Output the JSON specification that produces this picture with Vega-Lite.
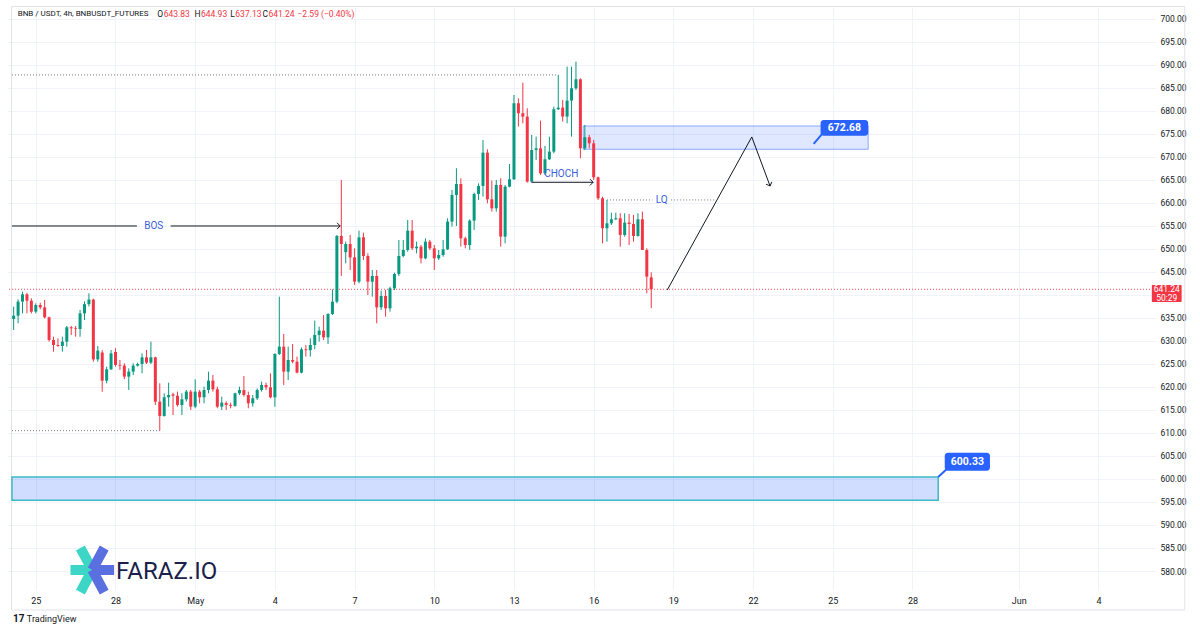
{
  "$schema": "https://vega.github.io/schema/vega-lite/v6.json",
  "width": 1149,
  "height": 583,
  "autosize": "none",
  "padding": {"left": 7, "top": 7, "right": 44, "bottom": 40},
  "background": "#ffffff",
  "config": {"view": {"stroke": null}, "font": "Roboto"},
  "resolve": {"axis": {"x": "independent", "y": "independent"}},
  "datasets": {
    "candles": [
      {"t":"2025-04-24T04:00Z","o":634.78,"h":637.46,"l":632.39,"c":635.5},
      {"t":"2025-04-24T08:00Z","o":635.5,"h":639.05,"l":633.84,"c":638.55},
      {"t":"2025-04-24T12:00Z","o":638.55,"h":640.72,"l":636.0,"c":640.14},
      {"t":"2025-04-24T16:00Z","o":640.14,"h":640.5,"l":636.0,"c":638.76},
      {"t":"2025-04-24T20:00Z","o":638.76,"h":639.27,"l":636.0,"c":636.37},
      {"t":"2025-04-25T00:00Z","o":636.37,"h":638.18,"l":636.0,"c":637.82},
      {"t":"2025-04-25T04:00Z","o":637.82,"h":638.33,"l":636.88,"c":637.31},
      {"t":"2025-04-25T08:00Z","o":637.31,"h":638.91,"l":634.92,"c":635.14},
      {"t":"2025-04-25T12:00Z","o":635.14,"h":635.29,"l":629.85,"c":630.21},
      {"t":"2025-04-25T16:00Z","o":630.21,"h":630.94,"l":627.68,"c":629.13},
      {"t":"2025-04-25T20:00Z","o":629.13,"h":630.57,"l":628.76,"c":628.91},
      {"t":"2025-04-26T00:00Z","o":628.91,"h":630.94,"l":627.68,"c":629.85},
      {"t":"2025-04-26T04:00Z","o":629.85,"h":633.26,"l":628.76,"c":632.97},
      {"t":"2025-04-26T08:00Z","o":632.97,"h":633.26,"l":631.3,"c":632.75},
      {"t":"2025-04-26T12:00Z","o":632.75,"h":633.26,"l":630.94,"c":632.6},
      {"t":"2025-04-26T16:00Z","o":632.6,"h":636.73,"l":630.94,"c":636.0},
      {"t":"2025-04-26T20:00Z","o":636.0,"h":638.6,"l":634.56,"c":638.0},
      {"t":"2025-04-27T00:00Z","o":638.0,"h":640.36,"l":637.5,"c":639.0},
      {"t":"2025-04-27T04:00Z","o":639.0,"h":639.2,"l":625.5,"c":626.0},
      {"t":"2025-04-27T08:00Z","o":626.0,"h":628.9,"l":625.5,"c":627.9},
      {"t":"2025-04-27T12:00Z","o":627.5,"h":628.0,"l":618.98,"c":621.37},
      {"t":"2025-04-27T16:00Z","o":621.37,"h":624.41,"l":620.8,"c":623.84},
      {"t":"2025-04-27T20:00Z","o":623.84,"h":628.04,"l":623.7,"c":627.31},
      {"t":"2025-04-28T00:00Z","o":627.6,"h":628.41,"l":624.42,"c":624.79},
      {"t":"2025-04-28T04:00Z","o":624.79,"h":625.87,"l":623.7,"c":624.64},
      {"t":"2025-04-28T08:00Z","o":624.64,"h":625.15,"l":621.67,"c":622.25},
      {"t":"2025-04-28T12:00Z","o":622.25,"h":624.06,"l":619.35,"c":623.34},
      {"t":"2025-04-28T16:00Z","o":623.34,"h":625.15,"l":622.61,"c":624.64},
      {"t":"2025-04-28T20:00Z","o":624.64,"h":625.29,"l":624.42,"c":625.0},
      {"t":"2025-04-29T00:00Z","o":625.0,"h":627.32,"l":622.97,"c":626.45},
      {"t":"2025-04-29T04:00Z","o":626.45,"h":628.05,"l":625.0,"c":625.29},
      {"t":"2025-04-29T08:00Z","o":625.29,"h":629.86,"l":625.0,"c":626.45},
      {"t":"2025-04-29T12:00Z","o":626.45,"h":626.6,"l":616.09,"c":616.81},
      {"t":"2025-04-29T16:00Z","o":616.81,"h":620.8,"l":610.51,"c":613.7},
      {"t":"2025-04-29T20:00Z","o":613.7,"h":618.63,"l":613.55,"c":617.76},
      {"t":"2025-04-30T00:00Z","o":617.76,"h":620.94,"l":615.73,"c":618.26},
      {"t":"2025-04-30T04:00Z","o":618.4,"h":618.77,"l":613.92,"c":618.1},
      {"t":"2025-04-30T08:00Z","o":618.1,"h":618.99,"l":615.73,"c":616.09},
      {"t":"2025-04-30T12:00Z","o":616.09,"h":618.63,"l":613.92,"c":617.32},
      {"t":"2025-04-30T16:00Z","o":617.32,"h":619.35,"l":616.81,"c":618.99},
      {"t":"2025-04-30T20:00Z","o":618.99,"h":619.35,"l":615.0,"c":615.73},
      {"t":"2025-05-01T00:00Z","o":615.73,"h":621.67,"l":615.37,"c":618.99},
      {"t":"2025-05-01T04:00Z","o":618.99,"h":619.35,"l":616.45,"c":617.76},
      {"t":"2025-05-01T08:00Z","o":617.76,"h":620.07,"l":616.45,"c":619.35},
      {"t":"2025-05-01T12:00Z","o":619.35,"h":623.34,"l":618.63,"c":621.38},
      {"t":"2025-05-01T16:00Z","o":621.38,"h":622.61,"l":618.99,"c":619.5},
      {"t":"2025-05-01T20:00Z","o":619.5,"h":620.07,"l":615.37,"c":615.73},
      {"t":"2025-05-02T00:00Z","o":615.73,"h":617.9,"l":615.0,"c":616.6},
      {"t":"2025-05-02T04:00Z","o":616.5,"h":616.9,"l":615.0,"c":616.1},
      {"t":"2025-05-02T08:00Z","o":616.1,"h":616.6,"l":615.37,"c":615.9},
      {"t":"2025-05-02T12:00Z","o":615.9,"h":618.77,"l":615.7,"c":618.62},
      {"t":"2025-05-02T16:00Z","o":618.62,"h":620.07,"l":618.26,"c":619.35},
      {"t":"2025-05-02T20:00Z","o":619.35,"h":622.39,"l":617.9,"c":618.26},
      {"t":"2025-05-03T00:00Z","o":618.26,"h":618.99,"l":615.37,"c":616.45},
      {"t":"2025-05-03T04:00Z","o":616.45,"h":618.26,"l":615.73,"c":617.54},
      {"t":"2025-05-03T08:00Z","o":617.54,"h":619.71,"l":617.18,"c":619.35},
      {"t":"2025-05-03T12:00Z","o":619.35,"h":621.16,"l":618.99,"c":620.44},
      {"t":"2025-05-03T16:00Z","o":620.44,"h":620.94,"l":619.35,"c":619.93},
      {"t":"2025-05-03T20:00Z","o":619.93,"h":622.97,"l":617.54,"c":617.76},
      {"t":"2025-05-04T00:00Z","o":617.76,"h":627.32,"l":615.73,"c":627.18},
      {"t":"2025-05-04T04:00Z","o":627.18,"h":639.64,"l":626.96,"c":628.77},
      {"t":"2025-05-04T08:00Z","o":628.77,"h":631.52,"l":620.44,"c":623.34},
      {"t":"2025-05-04T12:00Z","o":623.34,"h":628.77,"l":621.52,"c":625.87},
      {"t":"2025-05-04T16:00Z","o":625.87,"h":629.35,"l":625.15,"c":625.5},
      {"t":"2025-05-04T20:00Z","o":625.5,"h":626.6,"l":622.97,"c":623.12},
      {"t":"2025-05-05T00:00Z","o":623.12,"h":628.62,"l":622.97,"c":628.19},
      {"t":"2025-05-05T04:00Z","o":628.19,"h":629.13,"l":626.6,"c":628.0},
      {"t":"2025-05-05T08:00Z","o":628.0,"h":630.58,"l":626.6,"c":629.13},
      {"t":"2025-05-05T12:00Z","o":629.13,"h":634.42,"l":628.19,"c":631.31},
      {"t":"2025-05-05T16:00Z","o":631.31,"h":633.12,"l":629.86,"c":632.25},
      {"t":"2025-05-05T20:00Z","o":632.25,"h":635.65,"l":630.22,"c":630.8},
      {"t":"2025-05-06T00:00Z","o":630.8,"h":636.02,"l":629.35,"c":635.87},
      {"t":"2025-05-06T04:00Z","o":635.87,"h":641.23,"l":635.65,"c":638.55},
      {"t":"2025-05-06T08:00Z","o":638.55,"h":653.04,"l":638.2,"c":652.82},
      {"t":"2025-05-06T12:00Z","o":652.82,"h":665.0,"l":644.13,"c":651.08},
      {"t":"2025-05-06T16:00Z","o":649.3,"h":651.59,"l":646.88,"c":651.08},
      {"t":"2025-05-06T20:00Z","o":651.08,"h":653.04,"l":645.43,"c":648.18},
      {"t":"2025-05-07T00:00Z","o":648.18,"h":650.14,"l":642.17,"c":642.9},
      {"t":"2025-05-07T04:00Z","o":642.9,"h":653.98,"l":642.53,"c":652.53},
      {"t":"2025-05-07T08:00Z","o":652.53,"h":653.55,"l":647.6,"c":648.47},
      {"t":"2025-05-07T12:00Z","o":648.47,"h":649.05,"l":640.0,"c":642.9},
      {"t":"2025-05-07T16:00Z","o":642.9,"h":645.43,"l":639.63,"c":644.13},
      {"t":"2025-05-07T20:00Z","o":644.13,"h":645.43,"l":633.84,"c":637.31},
      {"t":"2025-05-08T00:00Z","o":637.31,"h":640.94,"l":636.73,"c":639.78},
      {"t":"2025-05-08T04:00Z","o":639.78,"h":641.08,"l":635.29,"c":637.1},
      {"t":"2025-05-08T08:00Z","o":637.1,"h":641.81,"l":636.38,"c":641.45},
      {"t":"2025-05-08T12:00Z","o":641.45,"h":644.85,"l":641.08,"c":644.56},
      {"t":"2025-05-08T16:00Z","o":644.56,"h":651.95,"l":644.13,"c":648.47},
      {"t":"2025-05-08T20:00Z","o":648.47,"h":651.95,"l":648.18,"c":649.78},
      {"t":"2025-05-09T00:00Z","o":649.78,"h":656.3,"l":649.42,"c":653.98},
      {"t":"2025-05-09T04:00Z","o":653.98,"h":656.3,"l":649.78,"c":650.14},
      {"t":"2025-05-09T08:00Z","o":650.14,"h":651.59,"l":649.05,"c":650.5},
      {"t":"2025-05-09T12:00Z","o":650.5,"h":650.87,"l":646.88,"c":647.97},
      {"t":"2025-05-09T16:00Z","o":647.97,"h":652.32,"l":647.75,"c":651.59},
      {"t":"2025-05-09T20:00Z","o":651.59,"h":651.95,"l":649.78,"c":650.14},
      {"t":"2025-05-10T00:00Z","o":650.14,"h":650.87,"l":645.43,"c":647.97},
      {"t":"2025-05-10T04:00Z","o":647.97,"h":649.78,"l":647.6,"c":648.69},
      {"t":"2025-05-10T08:00Z","o":648.69,"h":651.95,"l":648.33,"c":649.92},
      {"t":"2025-05-10T12:00Z","o":649.92,"h":656.67,"l":649.78,"c":655.95},
      {"t":"2025-05-10T16:00Z","o":655.95,"h":662.83,"l":654.86,"c":661.74},
      {"t":"2025-05-10T20:00Z","o":661.74,"h":667.54,"l":655.0,"c":664.13},
      {"t":"2025-05-11T00:00Z","o":664.13,"h":665.37,"l":650.51,"c":652.32},
      {"t":"2025-05-11T04:00Z","o":652.32,"h":652.68,"l":650.15,"c":650.87},
      {"t":"2025-05-11T08:00Z","o":650.87,"h":656.45,"l":649.78,"c":656.16},
      {"t":"2025-05-11T12:00Z","o":656.16,"h":662.25,"l":654.13,"c":661.96},
      {"t":"2025-05-11T16:00Z","o":661.96,"h":664.28,"l":660.66,"c":663.7},
      {"t":"2025-05-11T20:00Z","o":663.7,"h":673.7,"l":661.38,"c":670.94},
      {"t":"2025-05-12T00:00Z","o":670.94,"h":671.67,"l":659.93,"c":660.8},
      {"t":"2025-05-12T04:00Z","o":660.8,"h":664.86,"l":658.12,"c":658.84},
      {"t":"2025-05-12T08:00Z","o":658.84,"h":665.0,"l":658.12,"c":663.92},
      {"t":"2025-05-12T12:00Z","o":663.92,"h":665.37,"l":650.51,"c":652.68},
      {"t":"2025-05-12T16:00Z","o":652.68,"h":663.92,"l":651.23,"c":663.55},
      {"t":"2025-05-12T20:00Z","o":663.55,"h":668.48,"l":663.41,"c":665.15},
      {"t":"2025-05-13T00:00Z","o":665.15,"h":683.48,"l":665.0,"c":681.67},
      {"t":"2025-05-13T04:00Z","o":681.67,"h":682.76,"l":676.6,"c":679.5},
      {"t":"2025-05-13T08:00Z","o":679.5,"h":686.16,"l":677.32,"c":678.77},
      {"t":"2025-05-13T12:00Z","o":678.77,"h":680.58,"l":664.42,"c":664.64},
      {"t":"2025-05-13T16:00Z","o":664.64,"h":674.79,"l":664.42,"c":671.52},
      {"t":"2025-05-13T20:00Z","o":671.52,"h":674.42,"l":669.35,"c":671.88},
      {"t":"2025-05-14T00:00Z","o":671.88,"h":677.9,"l":666.09,"c":666.45},
      {"t":"2025-05-14T04:00Z","o":666.45,"h":672.39,"l":666.09,"c":669.5},
      {"t":"2025-05-14T08:00Z","o":669.5,"h":674.42,"l":669.35,"c":671.16},
      {"t":"2025-05-14T12:00Z","o":671.16,"h":680.95,"l":670.8,"c":680.37},
      {"t":"2025-05-14T16:00Z","o":680.37,"h":687.83,"l":680.22,"c":680.73},
      {"t":"2025-05-14T20:00Z","o":680.73,"h":682.4,"l":677.68,"c":678.77},
      {"t":"2025-05-15T00:00Z","o":678.77,"h":689.64,"l":677.32,"c":682.25},
      {"t":"2025-05-15T04:00Z","o":682.25,"h":689.64,"l":674.42,"c":684.93},
      {"t":"2025-05-15T08:00Z","o":684.93,"h":690.73,"l":684.57,"c":686.89},
      {"t":"2025-05-15T12:00Z","o":686.89,"h":687.1,"l":669.71,"c":671.88},
      {"t":"2025-05-15T16:00Z","o":671.88,"h":676.96,"l":671.52,"c":674.28},
      {"t":"2025-05-15T20:00Z","o":674.28,"h":674.79,"l":671.88,"c":672.97},
      {"t":"2025-05-16T00:00Z","o":672.97,"h":673.7,"l":665.0,"c":665.58},
      {"t":"2025-05-16T04:00Z","o":665.58,"h":665.73,"l":660.66,"c":661.02},
      {"t":"2025-05-16T08:00Z","o":661.02,"h":661.38,"l":651.23,"c":654.5},
      {"t":"2025-05-16T12:00Z","o":654.5,"h":660.66,"l":651.6,"c":655.58},
      {"t":"2025-05-16T16:00Z","o":655.58,"h":657.9,"l":655.22,"c":656.45},
      {"t":"2025-05-16T20:00Z","o":656.45,"h":657.9,"l":656.31,"c":656.67},
      {"t":"2025-05-17T00:00Z","o":656.67,"h":657.76,"l":650.51,"c":653.05},
      {"t":"2025-05-17T04:00Z","o":653.05,"h":657.76,"l":652.68,"c":655.73},
      {"t":"2025-05-17T08:00Z","o":655.73,"h":657.61,"l":650.87,"c":655.44},
      {"t":"2025-05-17T12:00Z","o":655.44,"h":657.39,"l":651.6,"c":652.83},
      {"t":"2025-05-17T16:00Z","o":652.83,"h":657.76,"l":652.68,"c":656.45},
      {"t":"2025-05-17T20:00Z","o":656.45,"h":658.12,"l":649.78,"c":649.78},
      {"t":"2025-05-18T00:00Z","o":649.78,"h":650.15,"l":640.37,"c":643.99},
      {"t":"2025-05-18T04:00Z","o":643.83,"h":644.93,"l":637.13,"c":641.24}
    ]
  },
  "layer": [
    {
      "data": {"values": [{"t": "2025-04-24T02:04Z", "t2": "2025-06-07T06:00Z", "p": 571.52, "p2": 702.72}]},
      "mark": {"type": "rect", "fill": "transparent", "stroke": "#e0e3eb", "strokeWidth": 1},
      "encoding": {
        "x": {"field": "t", "type": "temporal", "title": null,
          "scale": {"type": "utc", "domain": [{"year": 2025, "month": 4, "date": 24, "hours": 2, "minutes": 30, "utc": true}, {"year": 2025, "month": 6, "date": 5, "hours": 23, "minutes": 30, "utc": true}], "nice": false},
          "axis": {
            "values": [
              {"year": 2025, "month": 4, "date": 25, "utc": true},
              {"year": 2025, "month": 4, "date": 28, "utc": true},
              {"year": 2025, "month": 5, "date": 1, "utc": true},
              {"year": 2025, "month": 5, "date": 4, "utc": true},
              {"year": 2025, "month": 5, "date": 7, "utc": true},
              {"year": 2025, "month": 5, "date": 10, "utc": true},
              {"year": 2025, "month": 5, "date": 13, "utc": true},
              {"year": 2025, "month": 5, "date": 16, "utc": true},
              {"year": 2025, "month": 5, "date": 19, "utc": true},
              {"year": 2025, "month": 5, "date": 22, "utc": true},
              {"year": 2025, "month": 5, "date": 25, "utc": true},
              {"year": 2025, "month": 5, "date": 28, "utc": true},
              {"year": 2025, "month": 6, "date": 1, "utc": true},
              {"year": 2025, "month": 6, "date": 4, "utc": true}
            ],
            "labelExpr": "utcdate(datum.value) == 1 ? utcFormat(datum.value, '%b') : utcFormat(datum.value, '%-d')",
            "grid": true, "gridColor": "#f0f3fa", "gridWidth": 1,
            "domain": false, "ticks": false, "labelPadding": 6,
            "labelFontSize": 9, "labelColor": "#131722", "labelFont": "Roboto",
            "labelFlush": false, "labelOverlap": false, "title": null
          }
        },
        "x2": {"field": "t2"},
        "y": {"field": "p", "type": "quantitative", "title": null,
          "scale": {"domain": [575.87, 702.6], "nice": false, "zero": false},
          "axis": {
            "orient": "right",
            "values": [580, 585, 590, 595, 600, 605, 610, 615, 620, 625, 630, 635, 640, 645, 650, 655, 660, 665, 670, 675, 680, 685, 690, 695, 700],
            "labelExpr": "datum.value == 640 ? '' : format(datum.value, '.2f')",
            "grid": true, "gridColor": "#f0f3fa", "gridWidth": 1,
            "domain": false, "ticks": false, "labelPadding": 4,
            "labelFontSize": 8.5, "labelColor": "#131722", "labelFont": "Roboto",
            "labelOverlap": false, "labelFlush": false, "title": null
          }
        },
        "y2": {"field": "p2"}
      }
    },
    {
      "data": {"values": [
        {"t": "2025-04-24T02:30Z", "t2": "2025-05-28T23:15Z", "p": 595.4, "p2": 600.45}
      ]},
      "mark": {"type": "rect", "fill": "#2962ff", "fillOpacity": 0.22, "stroke": "#3cb9c4", "strokeWidth": 1.5},
      "encoding": {
        "x": {"field": "t", "type": "temporal", "axis": null},
        "x2": {"field": "t2"},
        "y": {"field": "p", "type": "quantitative", "axis": null},
        "y2": {"field": "p2"}
      }
    },
    {
      "data": {"values": [
        {"t": "2025-05-15T14:30Z", "t2": "2025-05-26T08:00Z", "p": 671.67, "p2": 676.74}
      ]},
      "mark": {"type": "rect", "fill": "#2962ff", "fillOpacity": 0.15, "stroke": "#2962ff", "strokeOpacity": 0.5, "strokeWidth": 1},
      "encoding": {
        "x": {"field": "t", "type": "temporal", "axis": null},
        "x2": {"field": "t2"},
        "y": {"field": "p", "type": "quantitative", "axis": null},
        "y2": {"field": "p2"}
      }
    },
    {
      "data": {"values": [{"p": 641.24}]},
      "mark": {"type": "rule", "color": "#f23645", "strokeDash": [1, 2], "strokeWidth": 1, "opacity": 0.9},
      "encoding": {"y": {"field": "p", "type": "quantitative", "axis": null}}
    },
    {
      "data": {"values": [
        {"t": "2025-04-24T02:30Z", "t2": "2025-05-14T16:00Z", "p": 687.83, "p2": 687.83},
        {"t": "2025-04-24T02:30Z", "t2": "2025-04-29T16:00Z", "p": 610.51, "p2": 610.51},
        {"t": "2025-05-16T12:00Z", "t2": "2025-05-18T05:00Z", "p": 660.66, "p2": 660.66},
        {"t": "2025-05-18T22:00Z", "t2": "2025-05-20T14:00Z", "p": 660.66, "p2": 660.66}
      ]},
      "mark": {"type": "rule", "color": "#787b86", "strokeDash": [1, 2], "strokeWidth": 1},
      "encoding": {
        "x": {"field": "t", "type": "temporal", "axis": null},
        "x2": {"field": "t2"},
        "y": {"field": "p", "type": "quantitative", "axis": null},
        "y2": {"field": "p2"}
      }
    },
    {
      "data": {"name": "candles"},
      "mark": {"type": "rule", "strokeWidth": 1},
      "encoding": {
        "x": {"field": "t", "type": "temporal", "axis": null},
        "y": {"field": "l", "type": "quantitative", "axis": null},
        "y2": {"field": "h"},
        "color": {"condition": {"test": "datum.c >= datum.o", "value": "#089981"}, "value": "#f23645"}
      }
    },
    {
      "data": {"name": "candles"},
      "mark": {"type": "bar", "width": 3},
      "encoding": {
        "x": {"field": "t", "type": "temporal", "axis": null},
        "y": {"field": "o", "type": "quantitative", "axis": null},
        "y2": {"field": "c"},
        "color": {"condition": {"test": "datum.c >= datum.o", "value": "#089981"}, "value": "#f23645"}
      }
    },
    {
      "data": {"values": [
        {"t": "2025-04-24T02:30Z", "t2": "2025-04-28T19:20Z", "p": 655, "p2": 655},
        {"t": "2025-04-30T01:50Z", "t2": "2025-05-06T11:00Z", "p": 655, "p2": 655},
        {"t": "2025-05-13T16:00Z", "t2": "2025-05-15T23:30Z", "p": 664.5, "p2": 664.5},
        {"t": "2025-05-18T18:30Z", "t2": "2025-05-21T22:50Z", "p": 641.1, "p2": 674.35},
        {"t": "2025-05-21T22:50Z", "t2": "2025-05-22T15:20Z", "p": 674.35, "p2": 663.7}
      ]},
      "mark": {"type": "rule", "color": "#131722", "strokeWidth": 1},
      "encoding": {
        "x": {"field": "t", "type": "temporal", "axis": null},
        "x2": {"field": "t2"},
        "y": {"field": "p", "type": "quantitative", "axis": null},
        "y2": {"field": "p2"}
      }
    },
    {
      "data": {"values": [
        {"t": "2025-05-06T11:00Z", "p": 655},
        {"t": "2025-05-15T23:30Z", "p": 664.5}
      ]},
      "mark": {"type": "point", "shape": "M-1,-1L0,0L-1,1", "filled": false, "stroke": "#131722", "strokeWidth": 1, "size": 40, "angle": 0, "opacity": 1},
      "encoding": {
        "x": {"field": "t", "type": "temporal", "axis": null},
        "y": {"field": "p", "type": "quantitative", "axis": null}
      }
    },
    {
      "data": {"values": [{"t": "2025-05-22T15:20Z", "p": 663.7}]},
      "mark": {"type": "point", "shape": "M-1,-1L0,0L-1,1", "filled": false, "stroke": "#131722", "strokeWidth": 1, "size": 40, "angle": 69, "opacity": 1},
      "encoding": {
        "x": {"field": "t", "type": "temporal", "axis": null},
        "y": {"field": "p", "type": "quantitative", "axis": null}
      }
    },
    {
      "data": {"values": [
        {"s": "BOS", "t": "2025-04-29T10:30Z", "p": 655},
        {"s": "CHOCH", "t": "2025-05-14T18:45Z", "p": 666.3},
        {"s": "LQ", "t": "2025-05-18T13:30Z", "p": 660.66}
      ]},
      "mark": {"type": "text", "color": "#3b5fd9", "fontSize": 10, "font": "Roboto", "baseline": "middle", "align": "center"},
      "encoding": {
        "x": {"field": "t", "type": "temporal", "axis": null},
        "y": {"field": "p", "type": "quantitative", "axis": null},
        "text": {"field": "s"}
      }
    },
    {
      "data": {"values": [
        {"t": "2025-05-24T06:45Z", "t2": "2025-05-24T15:00Z", "p": 672.83, "p2": 675.2},
        {"t": "2025-05-28T23:15Z", "t2": "2025-05-29T08:00Z", "p": 600.45, "p2": 602.4}
      ]},
      "mark": {"type": "rule", "color": "#2962ff", "strokeWidth": 2},
      "encoding": {
        "x": {"field": "t", "type": "temporal", "axis": null},
        "x2": {"field": "t2"},
        "y": {"field": "p", "type": "quantitative", "axis": null},
        "y2": {"field": "p2"}
      }
    },
    {
      "data": {"values": [
        {"t": "2025-05-24T13:00Z", "t2": "2025-05-26T08:00Z", "p": 674.63, "p2": 678.04},
        {"t": "2025-05-29T05:10Z", "t2": "2025-05-30T22:00Z", "p": 601.8, "p2": 605.72}
      ]},
      "mark": {"type": "rect", "fill": "#2962ff", "cornerRadius": 3},
      "encoding": {
        "x": {"field": "t", "type": "temporal", "axis": null},
        "x2": {"field": "t2"},
        "y": {"field": "p", "type": "quantitative", "axis": null},
        "y2": {"field": "p2"}
      }
    },
    {
      "data": {"values": [
        {"s": "672.68", "t": "2025-05-25T10:30Z", "p": 676.35},
        {"s": "600.33", "t": "2025-05-30T01:35Z", "p": 603.76}
      ]},
      "mark": {"type": "text", "color": "#ffffff", "fontSize": 10.5, "fontWeight": "bold", "font": "Roboto", "baseline": "middle", "align": "center"},
      "encoding": {
        "x": {"field": "t", "type": "temporal", "axis": null},
        "y": {"field": "p", "type": "quantitative", "axis": null},
        "text": {"field": "s"}
      }
    },
    {
      "data": {"values": [
        {"t": "2025-06-06T00:15Z", "t2": "2025-06-07T03:10Z", "p": 638.48, "p2": 642.17}
      ]},
      "mark": {"type": "rect", "fill": "#f23645", "cornerRadius": 1},
      "encoding": {
        "x": {"field": "t", "type": "temporal", "axis": null},
        "x2": {"field": "t2"},
        "y": {"field": "p", "type": "quantitative", "axis": null},
        "y2": {"field": "p2"}
      }
    },
    {
      "data": {"values": [
        {"s": "641.24", "t": "2025-06-06T13:45Z", "p": 641.35},
        {"s": "50:29", "t": "2025-06-06T13:45Z", "p": 639.45}
      ]},
      "mark": {"type": "text", "color": "#ffffff", "fontSize": 8.5, "font": "Roboto", "baseline": "middle", "align": "center"},
      "encoding": {
        "x": {"field": "t", "type": "temporal", "axis": null},
        "y": {"field": "p", "type": "quantitative", "axis": null},
        "text": {"field": "s"}
      }
    },
    {
      "data": {"values": [
        {"s": "BNB / USDT, 4h, BNBUSDT_FUTURES", "t": "2025-04-24T07:37Z", "p": 701.1}
      ]},
      "mark": {"type": "text", "color": "#131722", "fontSize": 8, "font": "Roboto", "baseline": "middle", "align": "left"},
      "encoding": {
        "x": {"field": "t", "type": "temporal", "axis": null},
        "y": {"field": "p", "type": "quantitative", "axis": null},
        "text": {"field": "s"}
      }
    },
    {
      "data": {"values": [
        {"s": "O", "t": "2025-04-29T19:31Z", "p": 701.1},
        {"s": "H", "t": "2025-05-01T05:17Z", "p": 701.1},
        {"s": "L", "t": "2025-05-02T12:16Z", "p": 701.1},
        {"s": "C", "t": "2025-05-03T18:10Z", "p": 701.1}
      ]},
      "mark": {"type": "text", "color": "#131722", "fontSize": 8.5, "font": "Roboto", "baseline": "middle", "align": "right", "dx": -0.5},
      "encoding": {
        "x": {"field": "t", "type": "temporal", "axis": null},
        "y": {"field": "p", "type": "quantitative", "axis": null},
        "text": {"field": "s"}
      }
    },
    {
      "data": {"values": [
        {"s": "TradingView", "t": "2025-04-24T15:56Z", "p": 569.57}
      ]},
      "mark": {"type": "text", "color": "#131722", "fontSize": 9, "font": "Roboto", "baseline": "middle", "align": "left"},
      "encoding": {
        "x": {"field": "t", "type": "temporal", "axis": null},
        "y": {"field": "p", "type": "quantitative", "axis": null},
        "text": {"field": "s"}
      }
    },
    {
      "data": {"values": [
        {"s": "17", "t": "2025-04-24T03:30Z", "p": 569.57}
      ]},
      "mark": {"type": "text", "color": "#131722", "fontSize": 10, "fontWeight": "bold", "font": "Roboto", "baseline": "middle", "align": "left"},
      "encoding": {
        "x": {"field": "t", "type": "temporal", "axis": null},
        "y": {"field": "p", "type": "quantitative", "axis": null},
        "text": {"field": "s"}
      }
    },
    {
      "data": {"values": [
        {"s": "643.83", "t": "2025-04-29T19:31Z", "p": 701.1},
        {"s": "644.93", "t": "2025-05-01T05:17Z", "p": 701.1},
        {"s": "637.13", "t": "2025-05-02T12:16Z", "p": 701.1},
        {"s": "641.24", "t": "2025-05-03T18:10Z", "p": 701.1},
        {"s": "−2.59 (−0.40%)", "t": "2025-05-04T20:25Z", "p": 701.1}
      ]},
      "mark": {"type": "text", "color": "#f23645", "fontSize": 8.5, "font": "Roboto", "baseline": "middle", "align": "left"},
      "encoding": {
        "x": {"field": "t", "type": "temporal", "axis": null},
        "y": {"field": "p", "type": "quantitative", "axis": null},
        "text": {"field": "s"}
      }
    },
    {
      "data": {"values": [
        {"t": "2025-04-26T07:20Z", "t2": "2025-04-27T03:02Z", "p": 580.22, "p2": 580.22},
        {"t": "2025-04-26T16:18Z", "t2": "2025-04-27T03:02Z", "p": 585.0, "p2": 580.22},
        {"t": "2025-04-26T16:18Z", "t2": "2025-04-27T03:02Z", "p": 575.43, "p2": 580.22}
      ]},
      "mark": {"type": "rule", "color": "#3dd6c6", "strokeWidth": 10, "strokeCap": "butt"},
      "encoding": {
        "x": {"field": "t", "type": "temporal", "axis": null},
        "x2": {"field": "t2"},
        "y": {"field": "p", "type": "quantitative", "axis": null},
        "y2": {"field": "p2"}
      }
    },
    {
      "data": {"values": [
        {"t": "2025-04-27T03:02Z", "t2": "2025-04-27T22:45Z", "p": 580.22, "p2": 580.22},
        {"t": "2025-04-27T03:02Z", "t2": "2025-04-27T13:48Z", "p": 580.22, "p2": 585.0},
        {"t": "2025-04-27T03:02Z", "t2": "2025-04-27T13:48Z", "p": 580.22, "p2": 575.43}
      ]},
      "mark": {"type": "rule", "color": "#5a6fe0", "strokeWidth": 10, "strokeCap": "butt"},
      "encoding": {
        "x": {"field": "t", "type": "temporal", "axis": null},
        "x2": {"field": "t2"},
        "y": {"field": "p", "type": "quantitative", "axis": null},
        "y2": {"field": "p2"}
      }
    },
    {
      "data": {"values": [{"s": "FARAZ.IO", "t": "2025-04-28T00:32Z", "p": 579.85}]},
      "mark": {"type": "text", "color": "#1b1f4b", "fontSize": 24, "font": "Roboto", "baseline": "middle", "align": "left"},
      "encoding": {
        "x": {"field": "t", "type": "temporal", "axis": null},
        "y": {"field": "p", "type": "quantitative", "axis": null},
        "text": {"field": "s"}
      }
    }
  ]
}
